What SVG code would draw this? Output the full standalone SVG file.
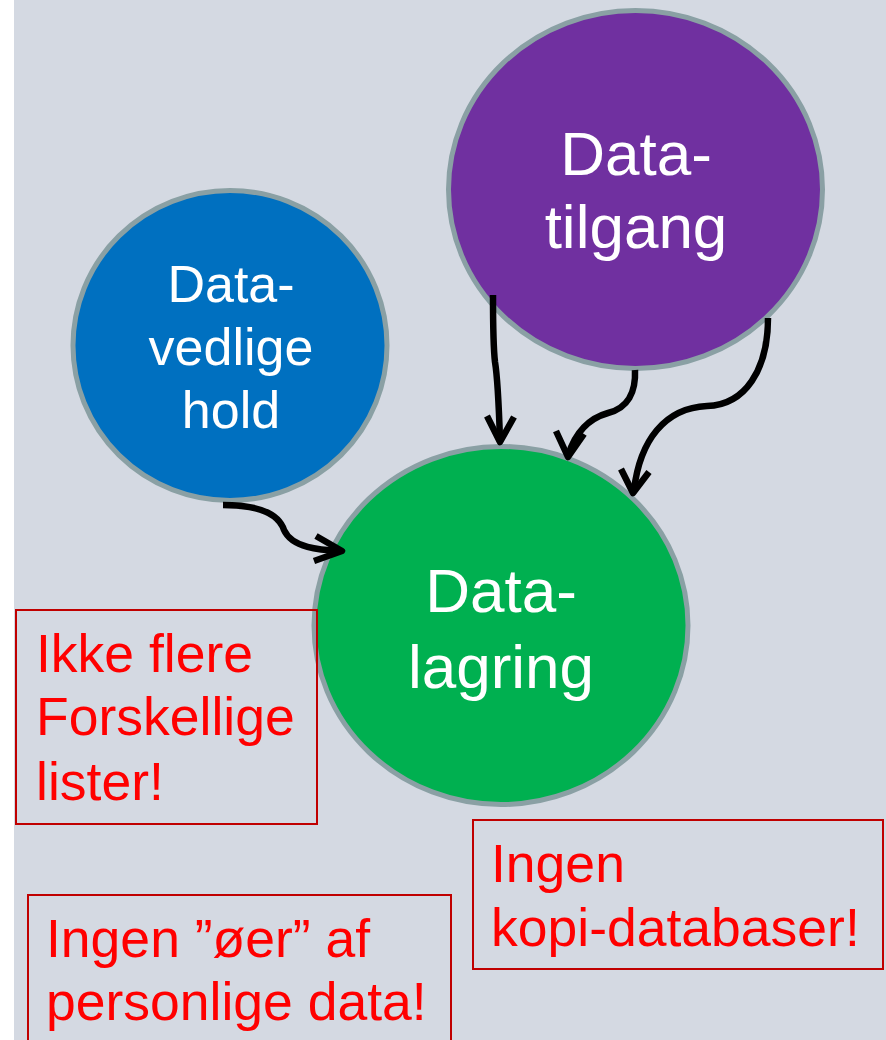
<svg xmlns="http://www.w3.org/2000/svg" width="886" height="1040" viewBox="0 0 886 1040">
  <defs>
    <style>
      .node { stroke: #8aa0a4; stroke-width: 5; }
      .label { font-family: "Liberation Sans", Arial, sans-serif; fill: #ffffff; text-anchor: middle; }
      .note-box { fill: none; stroke: #c00000; stroke-width: 2; }
      .note { font-family: "Liberation Sans", Arial, sans-serif; fill: #ff0000; font-size: 53.5px; }
      .link { fill: none; stroke: #000000; stroke-width: 6.5; stroke-linecap: butt; stroke-linejoin: round; }
    </style>
  </defs>

  <!-- page -->
  <rect x="0" y="0" width="886" height="1040" fill="#ffffff"/>
  <rect x="14" y="0" width="872" height="1040" fill="#d4d9e2"/>

  <!-- nodes -->
  <g id="node-tilgang">
    <ellipse class="node" cx="635.5" cy="189.5" rx="187" ry="179" fill="#7030a0"/>
    <text class="label" font-size="62" x="636" y="175">Data-</text>
    <text class="label" font-size="62" x="636" y="248">tilgang</text>
  </g>

  <g id="node-vedligehold">
    <ellipse class="node" cx="230" cy="345.5" rx="157" ry="155" fill="#0070c0"/>
    <text class="label" font-size="52" x="231" y="302">Data-</text>
    <text class="label" font-size="52" x="231" y="365">vedlige</text>
    <text class="label" font-size="52" x="231" y="428">hold</text>
  </g>

  <g id="node-lagring">
    <ellipse class="node" cx="501" cy="625.5" rx="187" ry="179" fill="#00b050"/>
    <text class="label" font-size="62" x="501" y="612">Data-</text>
    <text class="label" font-size="62" x="501" y="688">lagring</text>
  </g>

  <!-- connectors -->
  <g id="connectors">
    <!-- tilgang -> lagring (left) -->
    <path class="link" d="M493,295 C493,320 493,345 495,362 C498,380 499,410 500,440"/>
    <path class="link" d="M487,416 L500,442 L514,417"/>
    <!-- tilgang -> lagring (middle) -->
    <path class="link" d="M635,370 C636,392 628,408 608,413 C590,418 575,432 568,456"/>
    <path class="link" d="M556,431 L568,457 L584,434"/>
    <!-- tilgang -> lagring (right) -->
    <path class="link" d="M768,318 C768,370 745,405 707,406 C665,408 640,440 634,490"/>
    <path class="link" d="M621,469 L633,493 L649,472"/>
    <!-- vedligehold -> lagring -->
    <path class="link" d="M223,505 C255,505 278,512 284,530 C292,548 320,550 340,551"/>
    <path class="link" d="M316,536 L342,551 L314,561"/>
  </g>

  <!-- notes -->
  <g id="note-lister">
    <rect class="note-box" x="16" y="610" width="301" height="214"/>
    <text class="note" x="36" y="672">Ikke flere</text>
    <text class="note" x="36" y="735">Forskellige</text>
    <text class="note" x="36" y="800">lister!</text>
  </g>

  <g id="note-oeer">
    <rect class="note-box" x="28" y="895" width="423" height="160"/>
    <text class="note" x="46" y="957">Ingen ”øer” af</text>
    <text class="note" x="46" y="1020">personlige data!</text>
  </g>

  <g id="note-kopi">
    <rect class="note-box" x="473" y="820" width="410" height="149"/>
    <text class="note" x="491" y="882">Ingen</text>
    <text class="note" x="491" y="946">kopi-databaser!</text>
  </g>
</svg>
